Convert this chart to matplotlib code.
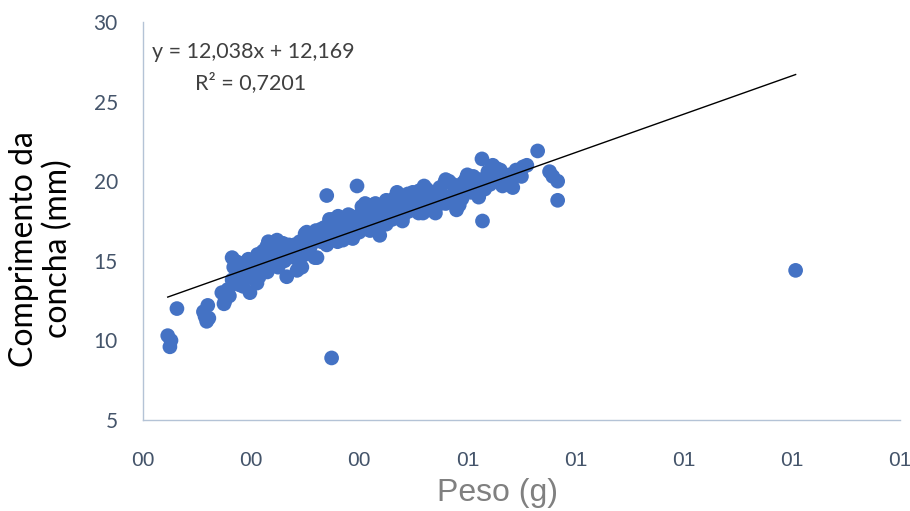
import matplotlib
matplotlib.use("Agg")
import matplotlib.pyplot as plt
import numpy as np

# Peso (g) and Comprimento da concha (mm)
peso = [
    0.046, 0.050, 0.052, 0.063,
    0.115, 0.118, 0.120, 0.122, 0.112,
    0.146, 0.152, 0.157, 0.160, 0.150,
    0.165, 0.170, 0.176, 0.165, 0.174, 0.185, 0.180, 0.168, 0.178,
    0.192, 0.198, 0.211, 0.207, 0.200, 0.188, 0.195, 0.215, 0.204, 0.190, 0.212,
    0.222, 0.229, 0.235, 0.240, 0.248, 0.255, 0.259, 0.262, 0.266, 0.270, 0.277, 0.244, 0.252, 0.232,
    0.280, 0.285, 0.290, 0.294, 0.300, 0.303, 0.310, 0.314, 0.318, 0.322, 0.288, 0.297, 0.306,
    0.325, 0.330, 0.336, 0.340, 0.345, 0.351, 0.355, 0.360, 0.364, 0.370, 0.333, 0.348, 0.358, 0.367,
    0.375, 0.380, 0.388, 0.396, 0.400, 0.405, 0.410, 0.415, 0.420, 0.385, 0.393, 0.402, 0.412,
    0.428, 0.432, 0.438, 0.444, 0.450, 0.455, 0.460, 0.469, 0.425, 0.436, 0.447, 0.464,
    0.475, 0.481, 0.486, 0.490, 0.499, 0.505, 0.510, 0.518, 0.478, 0.494, 0.514,
    0.525, 0.530, 0.536, 0.540, 0.549, 0.555, 0.562, 0.566, 0.573, 0.545, 0.558,
    0.580, 0.585, 0.592, 0.598, 0.604, 0.610, 0.615, 0.588, 0.607, 0.620,
    0.623, 0.628, 0.627, 0.632, 0.638, 0.642, 0.647, 0.654, 0.660, 0.665,
    0.672, 0.678, 0.684, 0.690, 0.697, 0.703, 0.710, 0.730,
    0.752, 0.758, 0.767, 0.767,
    0.400, 0.450, 0.480, 0.520, 0.560, 0.360, 0.420,
    0.430, 0.470, 0.520, 0.560, 0.600,
    0.220, 0.230, 0.240, 0.250, 0.260, 0.270, 0.280, 0.290, 0.300, 0.310,
    0.320, 0.330, 0.340, 0.350, 0.361, 0.370, 0.380, 0.390, 0.401, 0.411,
    0.421, 0.431, 0.441, 0.461, 0.471, 0.482, 0.491, 0.501, 0.511, 0.531,
    0.541, 0.551, 0.571, 0.590, 0.611, 0.621, 0.640, 0.661, 0.680, 0.700,
    0.349, 1.207,
]
comprimento = [
    10.3, 9.6, 10.0, 12.0,
    11.5, 11.2, 12.2, 11.4, 11.8,
    13.0, 12.5, 13.2, 12.8, 12.3,
    15.2, 15.0, 14.9, 13.8, 14.4, 13.4, 14.0, 14.6, 13.5,
    14.2, 13.0, 13.6, 14.9, 15.0, 14.6, 15.1, 14.0, 14.3, 13.9, 15.4,
    15.6, 15.9, 15.5, 15.2, 16.3, 16.0, 16.1, 15.0, 14.0, 15.3, 15.5, 14.8, 15.7, 16.2,
    16.0, 14.4, 15.1, 14.6, 16.7, 16.8, 16.4, 16.3, 15.2, 15.2, 15.6, 15.9, 15.8,
    16.7, 17.0, 17.1, 19.1, 17.6, 17.6, 16.5, 16.6, 16.5, 17.0, 16.4, 16.9, 17.4, 17.5,
    17.3, 16.7, 16.4, 19.7, 16.8, 18.4, 17.4, 17.0, 17.7, 17.8, 17.2, 17.9, 18.2,
    18.0, 17.5, 16.6, 18.0, 18.8, 17.8, 18.5, 19.0, 18.5, 18.2, 18.4, 18.9,
    17.8, 17.8, 18.6, 19.2, 19.3, 18.8, 18.0, 18.0, 19.0, 18.4, 19.0,
    19.5, 18.2, 18.5, 19.0, 19.6, 19.1, 18.8, 20.0, 19.8, 19.3, 19.9,
    18.2, 18.5, 19.9, 20.2, 20.3, 19.6, 20.0, 19.2, 19.3, 19.5,
    20.1, 17.5, 21.4, 19.5, 20.6, 19.8, 21.0, 20.8, 20.2, 19.7,
    20.3, 20.4, 19.6, 20.7, 20.7, 20.9, 21.0, 21.9,
    20.6, 20.3, 20.0, 18.8,
    16.9, 17.3, 17.5, 18.3, 18.6, 16.2, 16.9,
    18.6, 19.3, 19.7, 20.1, 20.4,
    14.8, 14.3, 15.8, 14.6, 15.5, 16.0, 15.2, 16.2, 15.4, 15.9,
    16.9, 16.2, 16.0, 17.2, 17.8, 16.3, 17.9, 17.0, 17.6, 18.6,
    18.3, 17.2, 18.4, 17.6, 18.3, 19.0, 18.1, 18.6, 19.4, 19.0,
    18.0, 18.6, 19.1, 18.9, 20.3, 19.0, 20.3, 20.7, 19.9, 20.3,
    8.9, 14.4,
]

# Trend line (as printed on the chart)
slope, intercept = 12.038, 12.169
eq_text = "y = 12,038x + 12,169"
r2_text = "R\u00b2 = 0,7201"

xticks = [0.0, 0.2, 0.4, 0.6, 0.8, 1.0, 1.2, 1.4]
xticklabels = ["00", "00", "00", "01", "01", "01", "01", "01"]
yticks = [5, 10, 15, 20, 25, 30]

fig = plt.figure(figsize=(9.10, 5.11), dpi=100)
ax = fig.add_axes([0.157, 0.178, 0.832, 0.779])

ax.scatter(peso, comprimento, s=112, color="#4472C4", edgecolors="none", zorder=2)

xmin, xmax = min(peso), max(peso)
lx = np.array([xmin, xmax])
ax.plot(lx, slope * lx + intercept, color="black", lw=1.0, zorder=3)

ax.set_xlim(0, 1.4)
ax.set_ylim(5, 30)
ax.set_xticks(xticks)
ax.set_xticklabels(xticklabels)
ax.set_yticks(yticks)

for s in ["top", "right"]:
    ax.spines[s].set_visible(False)
for s in ["left", "bottom"]:
    ax.spines[s].set_color("#B4C3D6")
    ax.spines[s].set_linewidth(1.0)

ax.tick_params(axis="both", length=0)
ax.tick_params(axis="y", pad=18, labelcolor="#44546A", labelsize=15)
ax.tick_params(axis="x", pad=22, labelcolor="#44546A", labelsize=15)
for lab in ax.get_yticklabels():
    lab.set_family(["Lato", "DejaVu Sans"])
for lab in ax.get_xticklabels():
    lab.set_family(["Liberation Sans Narrow", "Liberation Sans", "DejaVu Sans"])

ax.set_xlabel("Peso (g)", fontsize=23, color="#808080",
              family=["Liberation Sans Narrow", "Liberation Sans", "DejaVu Sans"])
ax.xaxis.set_label_coords(0.469, -0.146)
ax.set_ylabel("Comprimento da\nconcha (mm)", fontsize=23, color="black",
              family=["Lato", "DejaVu Sans"], linespacing=1.15)
ax.yaxis.set_label_coords(-0.092, 0.43)

ax.text(0.012, 0.925, eq_text, transform=ax.transAxes, fontsize=15.5, color="#404040",
        family=["Lato", "DejaVu Sans"], ha="left", va="center")
ax.text(0.069, 0.847, r2_text, transform=ax.transAxes, fontsize=15.5, color="#404040",
        family=["Lato", "DejaVu Sans"], ha="left", va="center")

fig.savefig("out.png", dpi=100)
